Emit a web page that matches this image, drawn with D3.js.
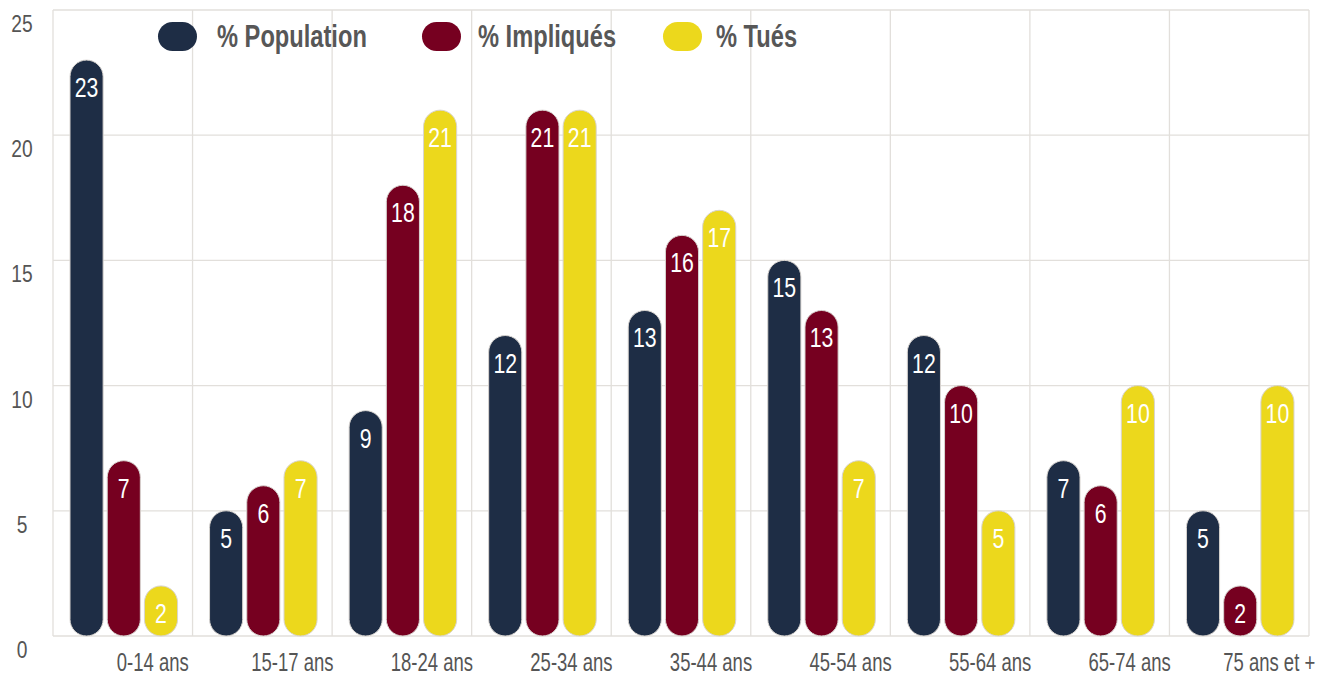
<!DOCTYPE html>
<html>
<head>
<meta charset="utf-8">
<title>Population / Impliqués / Tués</title>
<script src="https://cdn.jsdelivr.net/npm/d3@7/dist/d3.min.js"></script>
<style>
  body { margin: 0; background: #fff; }
  text { font-family: "Liberation Sans", Arial, sans-serif; }
</style>
</head>
<body>
<script>
  const categories = ["0-14 ans", "15-17 ans", "18-24 ans", "25-34 ans", "35-44 ans", "45-54 ans", "55-64 ans", "65-74 ans", "75 ans et +"];
  const seriesNames = ["% Population", "% Impliqués", "% Tués"];
  const population = [23, 5, 9, 12, 13, 15, 12, 7, 5];
  const impliques = [7, 6, 18, 21, 16, 13, 10, 6, 2];
  const tues = [2, 7, 21, 21, 17, 7, 5, 10, 10];
  const yTicks = [0, 5, 10, 15, 20, 25];
  const colors = ["#1e2d45", "#760020", "#ecd81c"];

  const width = 1318, height = 677;
  const margin = {left: 53, right: 9, top: 10, bottom: 41};
  const squeeze = 0.74; // fake a condensed face

  const svg = d3.select("body").append("svg")
    .attr("width", width).attr("height", height);

  const x = d3.scaleBand()
    .domain(categories)
    .range([margin.left, width - margin.right]);

  const xs = d3.scaleBand()
    .domain(seriesNames)
    .range([17, x.bandwidth() - 15])
    .paddingInner(0.11);

  const y = d3.scaleLinear()
    .domain([0, 25])
    .range([height - margin.bottom, margin.top]);

  // grid
  svg.append("g").selectAll("line")
    .data(yTicks)
    .join("line")
    .attr("x1", margin.left).attr("x2", width - margin.right)
    .attr("y1", d => y(d)).attr("y2", d => y(d))
    .attr("stroke", "#e2dfdb").attr("stroke-width", 1.3);

  svg.append("g").selectAll("line")
    .data(d3.range(categories.length + 1))
    .join("line")
    .attr("x1", i => margin.left + i * x.bandwidth())
    .attr("x2", i => margin.left + i * x.bandwidth())
    .attr("y1", margin.top).attr("y2", y(0))
    .attr("stroke", "#e2dfdb").attr("stroke-width", 1.3);

  // y labels
  svg.append("g").selectAll("text")
    .data(yTicks)
    .join("text")
    .attr("transform", d => `translate(22,${y(d) + 22}) scale(0.8,1)`)
    .attr("text-anchor", "middle")
    .attr("font-size", 24)
    .attr("fill", "#555")
    .text(d => d);

  // x labels
  svg.append("g").selectAll("text")
    .data(categories)
    .join("text")
    .attr("transform", d => `translate(${x(d) + x.bandwidth() / 2 + 30},${height - 6}) scale(${squeeze},1)`)
    .attr("text-anchor", "middle")
    .attr("font-size", 25)
    .attr("fill", "#555")
    .text(d => d);

  const rows = [];
  categories.forEach((c, i) => {
    [population, impliques, tues].forEach((arr, j) => {
      rows.push({cat: c, series: seriesNames[j], idx: j, value: arr[i]});
    });
  });

  const bw = xs.bandwidth();
  const bars = svg.append("g").selectAll("g")
    .data(rows)
    .join("g")
    .attr("transform", d => `translate(${x(d.cat) + xs(d.series)},0)`);

  bars.append("rect")
    .attr("x", 0)
    .attr("y", d => y(d.value))
    .attr("width", bw)
    .attr("height", d => y(0) - y(d.value))
    .attr("rx", bw / 2)
    .attr("fill", d => colors[d.idx])
    .attr("stroke", "#d8d4d0")
    .attr("stroke-width", 1);

  bars.append("text")
    .attr("transform", d => `translate(${bw / 2},${y(d.value) + 37}) scale(0.76,1)`)
    .attr("text-anchor", "middle")
    .attr("font-size", 28)
    .attr("fill", "#fff")
    .text(d => d.value);

  // legend
  const legendX = [158, 422, 663];
  const legendTextX = [59, 56, 53];
  const legend = svg.append("g").selectAll("g")
    .data(seriesNames)
    .join("g")
    .attr("transform", (d, i) => `translate(${legendX[i]},22)`);

  legend.append("rect")
    .attr("width", 39).attr("height", 29).attr("rx", 14.5)
    .attr("fill", (d, i) => colors[i]);

  legend.append("text")
    .attr("transform", (d, i) => `translate(${legendTextX[i]},25) scale(0.74,1)`)
    .attr("font-size", 32)
    .attr("font-weight", "bold")
    .attr("fill", "#575757")
    .text(d => d);
</script>
</body>
</html>
